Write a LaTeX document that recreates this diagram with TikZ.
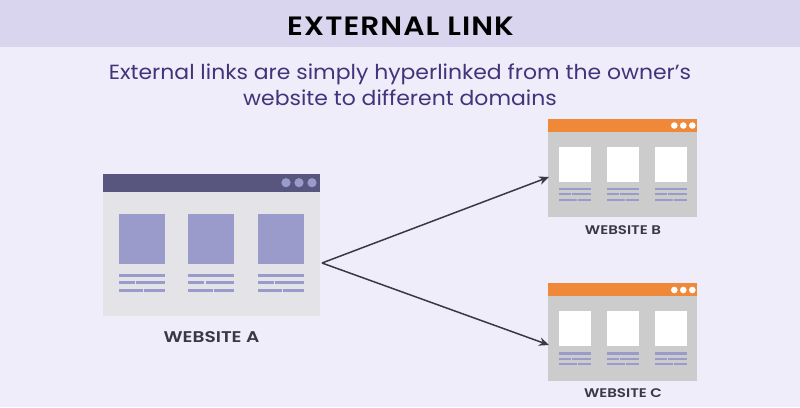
\documentclass[tikz,border=0pt]{standalone}
\usepackage{fontspec}
\setmainfont{Poppins}[BoldFont={Poppins SemiBold}]
\newfontfamily\titlefont{Poppins}[BoldFont={Poppins SemiBold},FakeStretch=1.12,LetterSpace=4]
\newfontfamily\subfont{Poppins}[FakeStretch=1.07]
\newfontfamily\capfont{Poppins}[BoldFont={Poppins SemiBold},FakeStretch=1.2]
\definecolor{bg}{HTML}{F0EDFA}
\definecolor{band}{HTML}{D9D5EE}
\definecolor{subt}{HTML}{43337A}
\definecolor{lilac}{HTML}{9B9BCB}
\definecolor{panelA}{HTML}{E4E3E8}
\definecolor{headA}{HTML}{58557F}
\definecolor{panelB}{HTML}{CCCCCC}
\definecolor{headB}{HTML}{F0883A}
\definecolor{ink}{HTML}{3A3746}
\usetikzlibrary{arrows.meta}
\tikzset{
  caption/.style={text=ink,font=\capfont\bfseries\fontsize{#1}{#1}\selectfont,inner sep=0pt,anchor=center},
  link/.style={draw=ink,line width=1.5pt,-{Stealth[length=10pt,width=8.5pt]}},
}
\newcommand{\col}[8]{%
  \fill[#5] (#1,#6) rectangle (#2,#7);
  \foreach \a/\b/\c/\d/\e/\f in {#8}{
    \fill[lilac] (#1,\a) rectangle (#2,\b);
    \fill[lilac] (#1,\c) rectangle (#3,\d);
    \fill[lilac] (#3+1.2,\c) rectangle (#2,\d);
    \fill[lilac] (#1,\e) rectangle (#4,\f);
    \fill[lilac] (#4+1.2,\e) rectangle (#2,\f);
  }%
}
\begin{document}
\begin{tikzpicture}[x=1pt,y=-1pt]
\useasboundingbox (0,0) rectangle (800,407);
\fill[bg] (0,0) rectangle (800,407);
\fill[band] (0,0) rectangle (800,47);
\node[inner sep=0pt,text=black,font=\titlefont\bfseries\fontsize{26.5}{26.5}\selectfont] (title) at (400.5,26) {EXTERNAL LINK};
\node[inner sep=0pt,text=subt,align=center,font=\subfont\fontsize{20.5}{26}\selectfont] (sub) at (400,85) {External links are simply hyperlinked from the owner’s\\website to different domains};
% Website A
\fill[panelA] (103,174) rectangle (320,316);
\fill[headA] (103,174) rectangle (320,191.5);
\foreach \x in {286,299,312}{\fill[lilac] (\x,182.7) circle (4.6);}
\foreach \x in {118.7,188.3,257.7}{
  \col{\x}{\x+46}{\x+16}{\x+24.3}{lilac}{213.7}{264}{273.7/277/281/284.4/289/292.4}
}
\node[caption=15.5] (capA) at (211.5,337) {WEBSITE A};
% Website B
\fill[panelB] (548.3,119.3) rectangle (697,216.7);
\fill[headB] (548.3,119.3) rectangle (697,131.7);
\foreach \x in {674.3,683.3,692.3}{\fill[white] (\x,125.5) circle (3.3);}
\foreach \x in {559.3,607.2,655}{
  \col{\x}{\x+31.7}{\x+11.7}{\x+17.5}{white}{146.7}{181.7}{187.7/190/193/195.3/198.5/200.5}
}
\node[caption=12.5] (capB) at (623,230) {WEBSITE B};
% Website C
\fill[panelB] (548.3,283.3) rectangle (697,381);
\fill[headB] (548.3,283.3) rectangle (697,296);
\foreach \x in {674.3,683.3,692.3}{\fill[white] (\x,290) circle (3.3);}
\foreach \x in {559.3,607.2,655}{
  \col{\x}{\x+31.7}{\x+11.7}{\x+17.5}{white}{311}{345.7}{352/354.7/358/360/363/365}
}
\node[caption=12.5] (capC) at (623,393) {WEBSITE C};
% connectors
\coordinate (hub) at (322,263);
\coordinate (inB) at (549,177);
\coordinate (inC) at (549,345);
\draw[link] (hub) -- (inB);
\draw[link] (hub) -- (inC);
\end{tikzpicture}
\end{document}
